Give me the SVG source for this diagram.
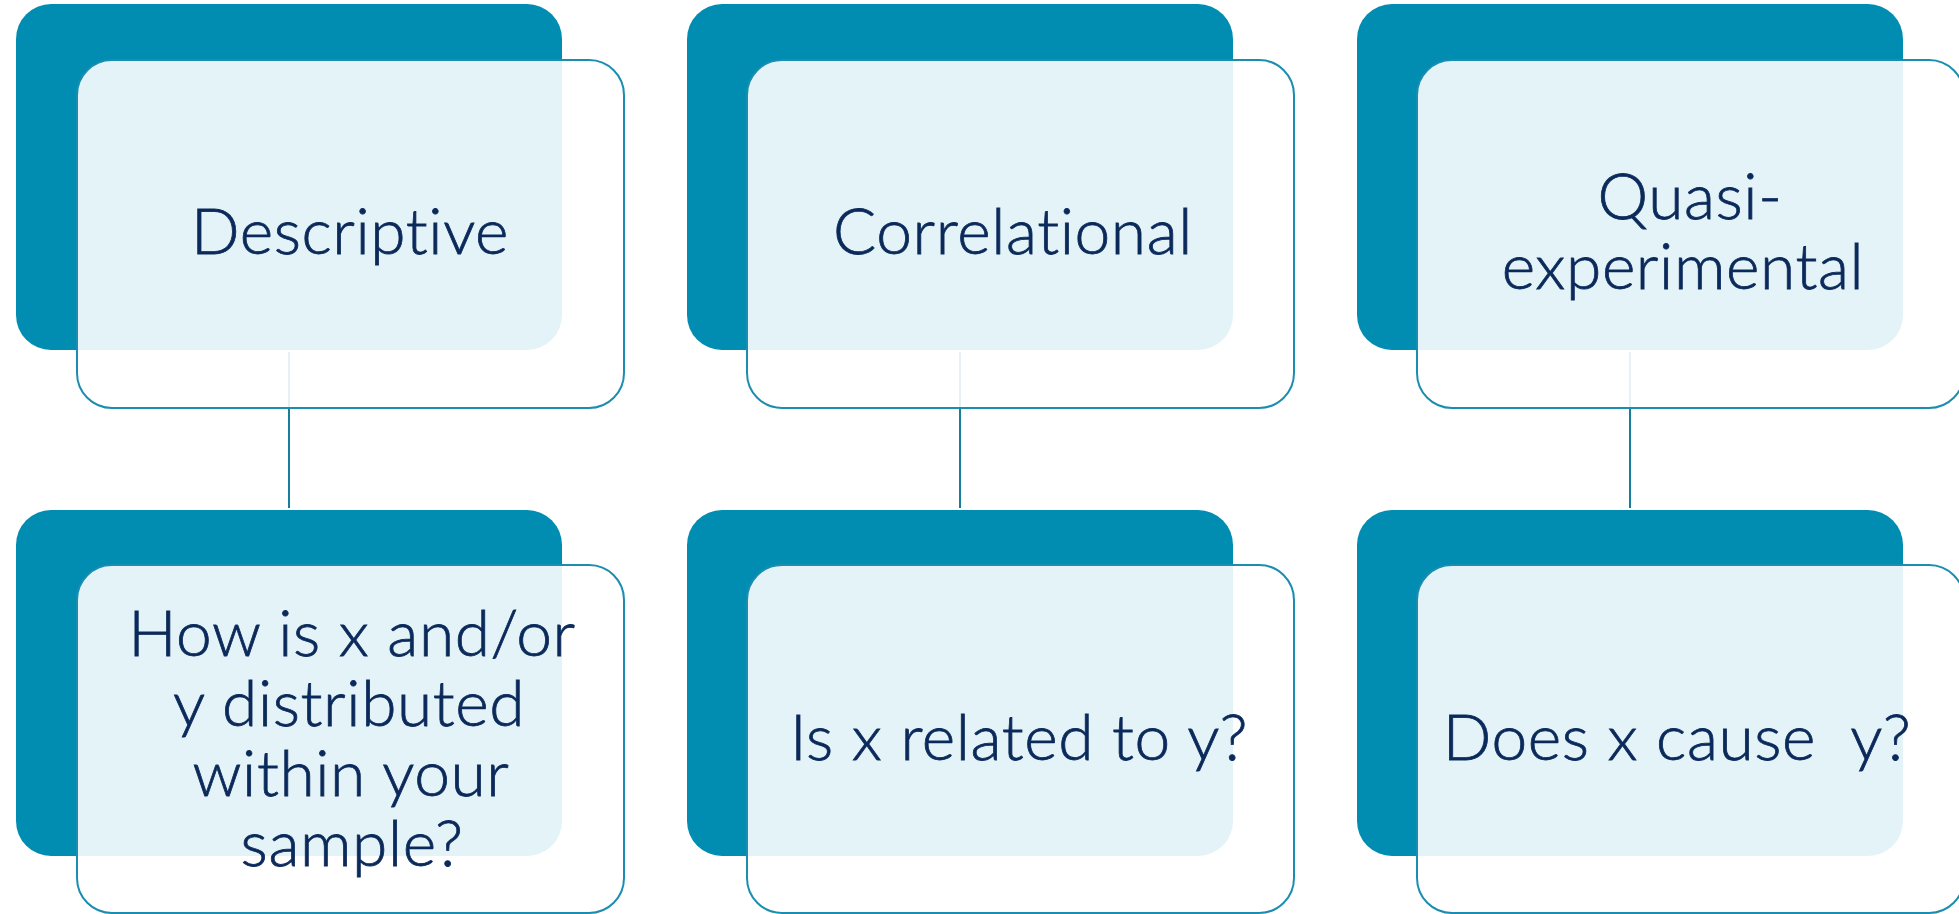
<svg xmlns="http://www.w3.org/2000/svg" width="1959" height="914" viewBox="0 0 1959 914">
  <style>
    .back { fill: #008db1; }
    .front { fill: #ffffff; fill-opacity: 0.895; stroke: #1a8db0; stroke-width: 2; }
    .label { font-family: Lato, "Open Sans", sans-serif; font-weight: 300; font-size: 64px; letter-spacing: 0.6px; font-variant-ligatures: none; fill: #0b2a5b; stroke: #0b2a5b; stroke-width: 0.8px; text-anchor: middle; }
    .link { stroke: #167f9e; stroke-width: 2; fill: none; }
  </style>
  <rect width="1959" height="914" fill="#ffffff"/>

  <!-- vertical links from each method to its question -->
  <g id="connectors">
    <line class="link" x1="289" y1="352" x2="289" y2="508"/>
    <line class="link" x1="960" y1="352" x2="960" y2="508"/>
    <line class="link" x1="1630" y1="352" x2="1630" y2="508"/>
  </g>

  <!-- top row: research designs -->
  <g id="descriptive">
    <rect class="back" x="16" y="4" width="546" height="346" rx="35"/>
    <rect class="front" x="77" y="60" width="547" height="348" rx="35"/>
    <text class="label" x="350" y="254">Descriptive</text>
  </g>
  <g id="correlational">
    <rect class="back" x="687" y="4" width="546" height="346" rx="35"/>
    <rect class="front" x="747" y="60" width="547" height="348" rx="35"/>
    <text class="label" x="1013" y="254">Correlational</text>
  </g>
  <g id="quasi-experimental">
    <rect class="back" x="1357" y="4" width="546" height="346" rx="35"/>
    <rect class="front" x="1417" y="60" width="547" height="348" rx="35"/>
    <text class="label" y="219"><tspan x="1690">Quasi-</tspan><tspan x="1683" y="289">experimental</tspan></text>
  </g>

  <!-- bottom row: questions -->
  <g id="q-descriptive">
    <rect class="back" x="16" y="510" width="546" height="346" rx="35"/>
    <rect class="front" x="77" y="565" width="547" height="348" rx="35"/>
    <text class="label" y="656"><tspan x="352">How is x and/or</tspan><tspan x="349" y="726">y distributed</tspan><tspan x="351" y="796">within your</tspan><tspan x="352" y="866">sample?</tspan></text>
  </g>
  <g id="q-correlational">
    <rect class="back" x="687" y="510" width="546" height="346" rx="35"/>
    <rect class="front" x="747" y="565" width="547" height="348" rx="35"/>
    <text class="label" x="1019" y="760">Is x related to y?</text>
  </g>
  <g id="q-quasi-experimental">
    <rect class="back" x="1357" y="510" width="546" height="346" rx="35"/>
    <rect class="front" x="1417" y="565" width="547" height="348" rx="35"/>
    <text class="label" x="1677" y="760" xml:space="preserve">Does x cause  y?</text>
  </g>
</svg>
